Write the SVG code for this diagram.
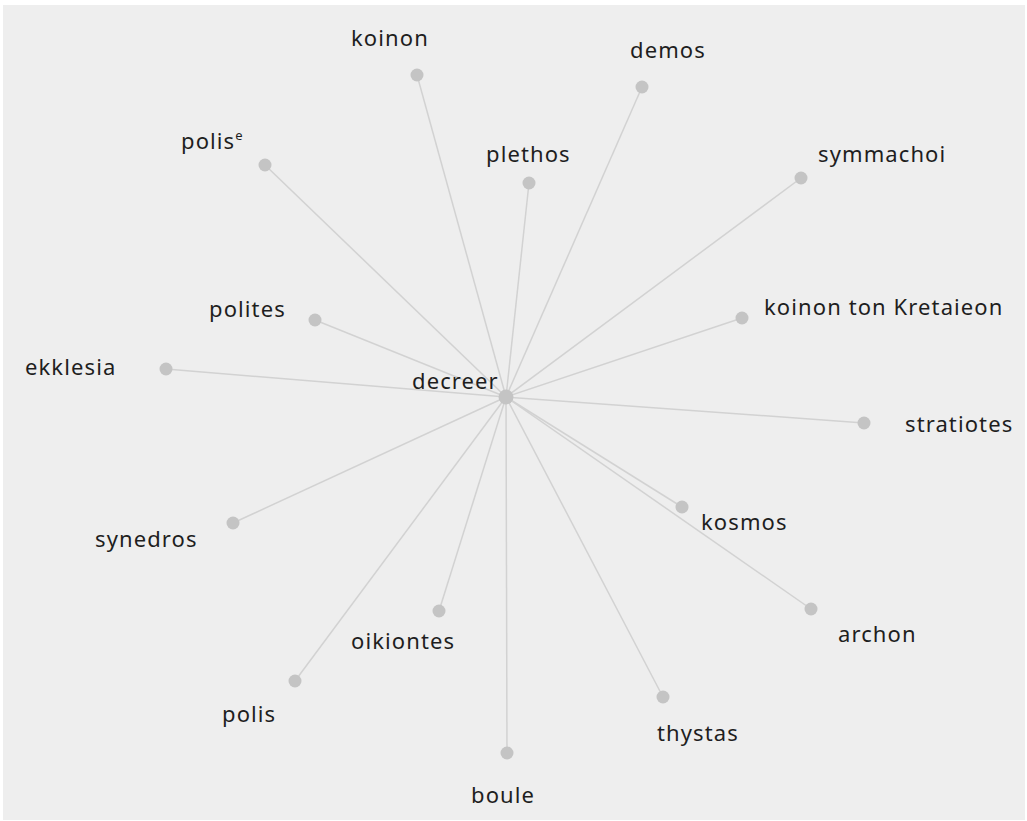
<svg xmlns="http://www.w3.org/2000/svg" width="1027" height="821" viewBox="0 0 1027 821">
<style>
.bg{fill:#eeeeee}
.e{stroke:#d2d2d2;stroke-width:1.5;fill:none}
.n{fill:#c4c4c4}
.t{font-family:"Noto Sans","Open Sans",sans-serif;font-size:22px;letter-spacing:1.1px;fill:#1e1e1e}
</style>
<rect x="0" y="0" width="1027" height="821" fill="#ffffff"/>
<rect class="bg" x="3" y="5" width="1022" height="815"/>
<g id="connectors">
<line class="e" x1="506" y1="397" x2="417" y2="75"/>
<line class="e" x1="506" y1="397" x2="642" y2="87"/>
<line class="e" x1="506" y1="397" x2="265" y2="165"/>
<line class="e" x1="506" y1="397" x2="529" y2="183"/>
<line class="e" x1="506" y1="397" x2="801" y2="178"/>
<line class="e" x1="506" y1="397" x2="315" y2="320"/>
<line class="e" x1="506" y1="397" x2="742" y2="318"/>
<line class="e" x1="506" y1="397" x2="166" y2="369"/>
<line class="e" x1="506" y1="397" x2="864" y2="423"/>
<line class="e" x1="506" y1="397" x2="682" y2="507"/>
<line class="e" x1="506" y1="397" x2="233" y2="523"/>
<line class="e" x1="506" y1="397" x2="811" y2="609"/>
<line class="e" x1="506" y1="397" x2="439" y2="611"/>
<line class="e" x1="506" y1="397" x2="295" y2="681"/>
<line class="e" x1="506" y1="397" x2="663" y2="697"/>
<line class="e" x1="506" y1="397" x2="507" y2="753"/>
</g>
<g id="koinon"><circle class="n" cx="417" cy="75" r="6.5"/><text class="t" x="351" y="46">koinon</text></g>
<g id="demos"><circle class="n" cx="642" cy="87" r="6.5"/><text class="t" x="630" y="58">demos</text></g>
<g id="polis-e"><circle class="n" cx="265" cy="165" r="6.5"/><text class="t" x="181" y="149">polis<tspan font-size="13" dy="-9" letter-spacing="0">e</tspan></text></g>
<g id="plethos"><circle class="n" cx="529" cy="183" r="6.5"/><text class="t" x="486" y="162">plethos</text></g>
<g id="symmachoi"><circle class="n" cx="801" cy="178" r="6.5"/><text class="t" x="818" y="162">symmachoi</text></g>
<g id="polites"><circle class="n" cx="315" cy="320" r="6.5"/><text class="t" x="209" y="317">polites</text></g>
<g id="koinon-ton-kretaieon"><circle class="n" cx="742" cy="318" r="6.5"/><text class="t" x="764" y="315">koinon ton Kretaieon</text></g>
<g id="ekklesia"><circle class="n" cx="166" cy="369" r="6.5"/><text class="t" x="25" y="375">ekklesia</text></g>
<g id="stratiotes"><circle class="n" cx="864" cy="423" r="6.5"/><text class="t" x="905" y="432">stratiotes</text></g>
<g id="kosmos"><circle class="n" cx="682" cy="507" r="6.5"/><text class="t" x="701" y="530">kosmos</text></g>
<g id="synedros"><circle class="n" cx="233" cy="523" r="6.5"/><text class="t" x="95" y="547">synedros</text></g>
<g id="archon"><circle class="n" cx="811" cy="609" r="6.5"/><text class="t" x="838" y="642">archon</text></g>
<g id="oikiontes"><circle class="n" cx="439" cy="611" r="6.5"/><text class="t" x="351" y="649">oikiontes</text></g>
<g id="polis"><circle class="n" cx="295" cy="681" r="6.5"/><text class="t" x="222" y="722">polis</text></g>
<g id="thystas"><circle class="n" cx="663" cy="697" r="6.5"/><text class="t" x="657" y="741">thystas</text></g>
<g id="boule"><circle class="n" cx="507" cy="753" r="6.5"/><text class="t" x="471" y="803">boule</text></g>
<g id="decreer"><circle class="n" cx="506" cy="397" r="7.5"/><text class="t" x="412" y="389">decreer</text></g>
</svg>
